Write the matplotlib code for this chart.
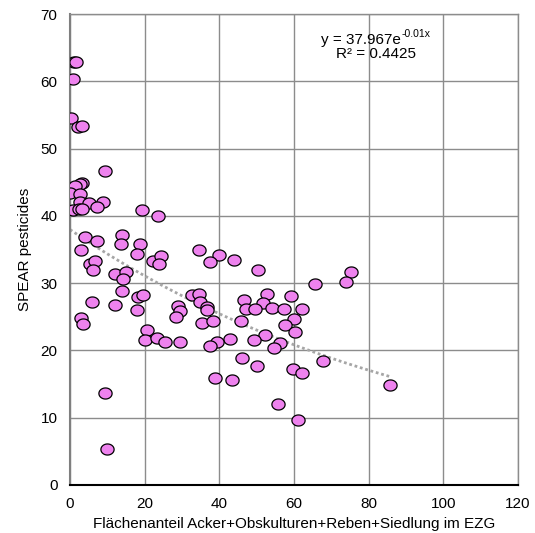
import matplotlib
matplotlib.use("Agg")
import matplotlib.pyplot as plt
import numpy as np
from matplotlib.path import Path

plt.rcParams['font.family'] = ['Liberation Sans', 'DejaVu Sans']

# share of arable/orchard/vineyard/settlement area in catchment (%)
flaechenanteil = [
    1.2, 1.6, 0.8, 0.4, 2.1, 3.2, 9.5, 3.2, 2.8, 1.3,
    0.0, 2.6, 2.6, 5.0, 8.8, 7.3, 0.7, 2.5, 3.2, 19.2,
    23.7, 3.9, 7.1, 13.8, 13.6, 18.7, 3.0, 18.0, 22.3, 24.5,
    23.8, 5.3, 6.6, 6.2, 12.0, 14.9, 14.2, 13.8, 5.8, 12.0,
    18.3, 19.6, 18.0, 3.0, 3.4, 20.5, 20.0, 23.4, 25.5, 29.5,
    28.8, 29.5, 28.4, 9.5, 10.0, 34.6, 40.0, 37.5, 43.8, 50.4,
    75.2, 73.9, 65.7, 32.8, 34.6, 34.9, 36.7, 36.6, 35.4, 38.4,
    46.7, 52.9, 51.7, 47.1, 49.6, 54.2, 57.2, 59.2, 62.1, 45.8,
    60.0, 57.6, 60.4, 52.1, 56.3, 54.6, 49.2, 42.9, 39.4, 37.5,
    46.2, 50.0, 59.6, 62.1, 67.8, 38.8, 43.3, 55.7, 61.2, 85.8,
]
spear = [
    62.8, 62.9, 60.4, 54.6, 53.2, 53.3, 46.6, 44.9, 44.8, 44.4,
    43.4, 43.2, 42.1, 41.9, 42.0, 41.3, 40.9, 41.0, 41.0, 40.8,
    40.0, 36.8, 36.2, 37.2, 35.8, 35.8, 34.9, 34.3, 33.3, 34.0,
    32.9, 32.8, 33.3, 31.9, 31.4, 31.7, 30.6, 28.9, 27.2, 26.7,
    28.0, 28.2, 26.0, 24.8, 23.9, 23.0, 21.5, 21.8, 21.3, 21.3,
    26.6, 25.8, 24.9, 13.7, 5.3, 35.0, 34.2, 33.1, 33.5, 31.9,
    31.6, 30.1, 29.8, 28.2, 28.4, 27.2, 26.4, 26.0, 24.1, 24.4,
    27.5, 28.4, 27.0, 26.2, 26.1, 26.3, 26.1, 28.1, 26.1, 24.4,
    24.6, 23.8, 22.8, 22.3, 21.1, 20.4, 21.5, 21.7, 21.2, 20.6,
    18.9, 17.7, 17.2, 16.7, 18.5, 15.9, 15.6, 12.1, 9.7, 14.8,
]

# exponential trend line as printed on the chart
trend_a = 37.967
trend_b = -0.01
trend_text = "y = 37.967e"
trend_exp = "-0.01x"
r2_text = "R² = 0.4425"

x = np.array(flaechenanteil)
y = np.array(spear)

fig = plt.figure(figsize=(5.35, 5.33), dpi=100)
ax = fig.add_axes([70 / 535, 1 - 485 / 533, 448 / 535, 471 / 533])

t = np.linspace(0, 2 * np.pi, 60)
ellipse = Path(np.column_stack([np.cos(t), 0.84 * np.sin(t)]), closed=True)

xt = np.linspace(x.min(), x.max(), 100)
ax.plot(xt, trend_a * np.exp(trend_b * xt), color='#a6a6a6', lw=2,
        linestyle=(0, (1, 1)), zorder=2)

ax.plot(x, y, linestyle='none', marker=ellipse, markersize=9.5,
        markerfacecolor='#ee82ee', markeredgecolor='black',
        markeredgewidth=0.9, zorder=3)

ax.set_xlim(0, 120)
ax.set_ylim(0, 70)
ax.set_xticks(range(0, 121, 20))
ax.set_yticks(range(0, 71, 10))
ax.grid(True, color='#8c8c8c', lw=1)
ax.set_axisbelow(True)
ax.tick_params(length=0, labelsize=11, pad=9)

for s in ['top', 'right']:
    ax.spines[s].set_color('#8c8c8c')
    ax.spines[s].set_linewidth(1)
ax.spines['left'].set_color('#7f7f7f')
ax.spines['left'].set_linewidth(1.5)
ax.spines['bottom'].set_color('black')
ax.spines['bottom'].set_linewidth(1.5)

ax.set_xlabel("Flächenanteil Acker+Obskulturen+Reben+Siedlung im EZG",
              fontsize=11, labelpad=4)
ax.set_ylabel("SPEAR pesticides", fontsize=11, labelpad=6)

# equation with a plain hyphen in the exponent, like the original
ax.text(0.739, 0.936, trend_text, transform=ax.transAxes, ha='right',
        va='baseline', fontsize=11)
ax.text(0.739, 0.951, trend_exp, transform=ax.transAxes, ha='left',
        va='baseline', fontsize=7.5)
ax.text(0.683, 0.915, r2_text, transform=ax.transAxes, ha='center',
        va='center', fontsize=11)

fig.savefig("out.png", dpi=100)
